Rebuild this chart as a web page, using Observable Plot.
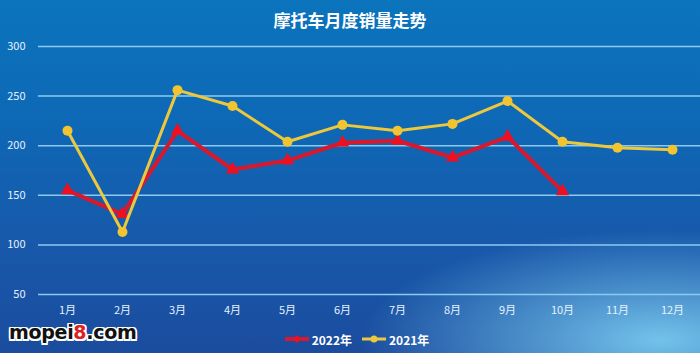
<!DOCTYPE html>
<html><head><meta charset="utf-8">
<script src="https://cdn.jsdelivr.net/npm/d3@7"></script>
<script src="https://cdn.jsdelivr.net/npm/@observablehq/plot@0.6"></script>
<style>
body{margin:0;}
#wrap{position:relative;width:700px;height:353px;overflow:hidden;
background:
 radial-gradient(ellipse 300px 110px at 660px 340px, rgba(130,215,248,0.85), rgba(130,215,248,0) 100%),
 linear-gradient(to bottom,#0b74bd 0%,#0e68b5 35%,#1858aa 70%,#1b4c9e 100%);
font-family:"Noto Sans CJK SC","Noto Sans",sans-serif;}
#title{height:36px;line-height:40px;text-align:center;color:#fff;font-size:17px;font-weight:bold;}
#legend{position:absolute;left:0;top:329px;width:700px;height:20px;display:flex;justify-content:center;align-items:center;gap:10px;color:#fff;font-weight:bold;font-size:12px;padding-left:14px;box-sizing:border-box;}
.item{display:flex;align-items:center;gap:3px;}
#wm{position:absolute;left:9px;top:321px;font-family:"DejaVu Sans",sans-serif;font-weight:bold;font-size:19px;line-height:22px;color:#111;letter-spacing:-0.3px;
 text-shadow:-1.5px -1.5px 0 #fff,1.5px -1.5px 0 #fff,-1.5px 1.5px 0 #fff,1.5px 1.5px 0 #fff,0 1.5px 0 #fff,0 -1.5px 0 #fff,1.5px 0 0 #fff,-1.5px 0 0 #fff;}
#wm span{color:#e02020;}
svg{display:block;}
</style></head>
<body>
<div id="wrap">
<div id="title">摩托车月度销量走势</div>
<div id="chart"></div>
<div id="wm">mopei<span>8</span>.com</div>
<div id="legend"></div>
</div>
<script>
const months = ["1月","2月","3月","4月","5月","6月","7月","8月","9月","10月","11月","12月"];
const sales2022 = [155,131,215,176,185,203,205,188,209,154,null,null];
const sales2021 = [215,113,256,240,204,221,215,222,245,204,198,196];
const yTicks = [50,100,150,200,250,300];
const seriesNames = ["2022年","2021年"];
const colors = ["#d8182c","#ecc83c"];

const d22 = months.map((m,i)=>({m, v: sales2022[i]})).filter(d=>d.v!=null);
const d21 = months.map((m,i)=>({m, v: sales2021[i]}));

const chart = Plot.plot({
  width:700, height:290,
  marginLeft:38, marginRight:0, marginTop:10, marginBottom:32,
  style:{background:"transparent", color:"#fff", fontFamily:"'Noto Sans CJK SC','Noto Sans',sans-serif"},
  x:{type:"point", domain:months, padding:0.5, label:null},
  y:{domain:[50,300], label:null},
  marks:[
    Plot.ruleY(yTicks,{stroke:"#8ccaf0", strokeWidth:1.5}),
    Plot.axisY({ticks:yTicks, tickSize:0, tickPadding:13, fontSize:11, fill:"#e6f2ff"}),
    Plot.axisX({tickSize:0, tickPadding:12, fontSize:11, fill:"#e6f2ff"}),
    Plot.line(d22,{x:"m", y:"v", stroke:colors[0], strokeWidth:4}),
    Plot.dot(d22,{x:"m", y:"v", symbol:"triangle", r:5, fill:"#ee1020", stroke:"none"}),
    Plot.line(d21,{x:"m", y:"v", stroke:colors[1], strokeWidth:3}),
    Plot.dot(d21,{x:"m", y:"v", r:5, fill:"#f2c530", stroke:"none"})
  ]
});
document.getElementById("chart").appendChild(chart);

const leg = document.getElementById("legend");
seriesNames.forEach((n,i)=>{
  const it = document.createElement("div"); it.className="item";
  it.innerHTML = `<svg width="24" height="10"><line x1="0" y1="5" x2="24" y2="5" stroke="${colors[i]}" stroke-width="${i?3:4}"/>`+
   (i? `<circle cx="12" cy="5" r="3.5" fill="${colors[i]}"/>` : `<path d="M12,1 L16,5 L12,9 L8,5Z" fill="#ee1020"/>`)+`</svg><span>${n}</span>`;
  leg.appendChild(it);
});
</script>
</body></html>
